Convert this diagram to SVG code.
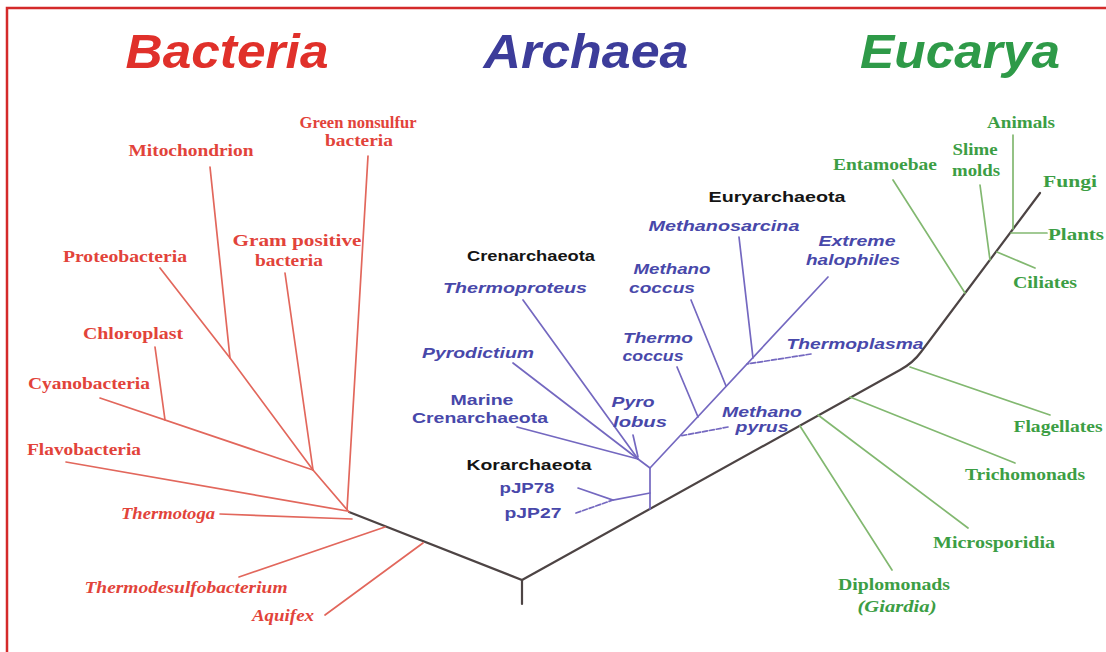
<svg xmlns="http://www.w3.org/2000/svg" width="1106" height="652" viewBox="0 0 1106 652">
<style>
text{font-weight:bold;text-anchor:middle}
.t{font-family:"Liberation Sans",Arial,sans-serif;font-style:italic;font-size:48px}
.bl{font-family:"Liberation Serif","Times New Roman",serif;font-size:16px;fill:#e2433a}
.el{font-family:"Liberation Serif","Times New Roman",serif;font-size:16px;fill:#3c9e44}
.al{font-family:"Liberation Sans",Arial,sans-serif;font-size:15px;fill:#4848aa}
.ak{font-family:"Liberation Sans",Arial,sans-serif;font-size:15px;fill:#141414}
.i{font-style:italic}
.c path{fill:none;stroke-linecap:round}
.rb{stroke:#e2675c;stroke-width:1.7}
.ab{stroke:#7468c0;stroke-width:1.7}
.eb{stroke:#82b870;stroke-width:1.7}
.tr{stroke:#4d4444;stroke-width:2.2}
.d{stroke-dasharray:5 2}
</style>
<rect width="1106" height="652" fill="#ffffff"/>
<path d="M7,652 L7,8 L1106,8" fill="none" stroke="#d42a2a" stroke-width="2.5"/>
<g id="titles">
<text class="t" x="227" y="68" fill="#e0302a" textLength="203" lengthAdjust="spacingAndGlyphs">Bacteria</text>
<text class="t" x="586" y="68" fill="#3c3c9a" textLength="205" lengthAdjust="spacingAndGlyphs">Archaea</text>
<text class="t" x="960" y="68" fill="#2e9a48" textLength="200" lengthAdjust="spacingAndGlyphs">Eucarya</text>
</g>
<g id="connectors" class="c">
<path class="tr" d="M349,512 L522,580 L900,370 Q913,363 921,352 L1040,193"/>
<path class="tr" d="M522,580 L522,604"/>
<path class="rb" d="M368,156 L347,510"/>
<path class="rb" d="M285,273 L313,470"/>
<path class="rb" d="M210,167 L230,358"/>
<path class="rb" d="M160,268 L230,358 L313,470 L349,512"/>
<path class="rb" d="M155,347 L165,420"/>
<path class="rb" d="M100,398 L313,470"/>
<path class="rb" d="M66,462 L347,511"/>
<path class="rb" d="M220,514 L352,519"/>
<path class="rb" d="M239,577 L385,527"/>
<path class="rb" d="M325,615 L423,543"/>
<path class="ab" d="M650,509 L650,468 L828,277"/>
<path class="ab" d="M650,468 L638,459"/>
<path class="ab" d="M523,300 L638,459"/>
<path class="ab" d="M513,363 L638,459"/>
<path class="ab" d="M517,427 L638,459"/>
<path class="ab" d="M633,435 L638,457"/>
<path class="ab d" d="M728,427 L680,436"/>
<path class="ab" d="M677,367 L698,417"/>
<path class="ab" d="M691,300 L726,386"/>
<path class="ab" d="M739,237 L753,358"/>
<path class="ab d" d="M811,354 L747,364"/>
<path class="ab" d="M578,488 L613,500 L650,493"/>
<path class="ab d" d="M576,513 L613,500"/>
<path class="eb" d="M893,180 L965,293"/>
<path class="eb" d="M980,185 L990,260"/>
<path class="eb" d="M997,252 L1035,268"/>
<path class="eb" d="M1013,135 L1013,229"/>
<path class="eb" d="M1011,233 L1047,233"/>
<path class="eb" d="M910,367 L1050,415"/>
<path class="eb" d="M850,397 L1015,463"/>
<path class="eb" d="M818,415 L968,528"/>
<path class="eb" d="M800,426 L892,570"/>
</g>
<g id="green-nonsulfur"><text class="bl" x="358" y="128" textLength="117" lengthAdjust="spacingAndGlyphs">Green nonsulfur</text><text class="bl" x="359" y="146" textLength="68" lengthAdjust="spacingAndGlyphs">bacteria</text></g>
<g id="mitochondrion"><text class="bl" x="191" y="156" textLength="125" lengthAdjust="spacingAndGlyphs">Mitochondrion</text></g>
<g id="proteobacteria"><text class="bl" x="125" y="262" textLength="124" lengthAdjust="spacingAndGlyphs">Proteobacteria</text></g>
<g id="gram-positive"><text class="bl" x="297" y="246" textLength="129" lengthAdjust="spacingAndGlyphs">Gram positive</text><text class="bl" x="289" y="266" textLength="68" lengthAdjust="spacingAndGlyphs">bacteria</text></g>
<g id="chloroplast"><text class="bl" x="133" y="339" textLength="100" lengthAdjust="spacingAndGlyphs">Chloroplast</text></g>
<g id="cyanobacteria"><text class="bl" x="89" y="389" textLength="122" lengthAdjust="spacingAndGlyphs">Cyanobacteria</text></g>
<g id="flavobacteria"><text class="bl" x="84" y="455" textLength="114" lengthAdjust="spacingAndGlyphs">Flavobacteria</text></g>
<g id="thermotoga"><text class="bl i" x="168" y="519" textLength="94" lengthAdjust="spacingAndGlyphs">Thermotoga</text></g>
<g id="thermodesulfobacterium"><text class="bl i" x="186" y="593" textLength="203" lengthAdjust="spacingAndGlyphs">Thermodesulfobacterium</text></g>
<g id="aquifex"><text class="bl i" x="283" y="621" textLength="62" lengthAdjust="spacingAndGlyphs">Aquifex</text></g>
<g id="euryarchaeota"><text class="ak" x="777" y="202" textLength="137" lengthAdjust="spacingAndGlyphs">Euryarchaeota</text></g>
<g id="methanosarcina"><text class="al i" x="724" y="231" textLength="151" lengthAdjust="spacingAndGlyphs">Methanosarcina</text></g>
<g id="extreme-halophiles"><text class="al i" x="857" y="246" textLength="77" lengthAdjust="spacingAndGlyphs">Extreme</text><text class="al i" x="853" y="265" textLength="94" lengthAdjust="spacingAndGlyphs">halophiles</text></g>
<g id="crenarchaeota"><text class="ak" x="531" y="261" textLength="128" lengthAdjust="spacingAndGlyphs">Crenarchaeota</text></g>
<g id="thermoproteus"><text class="al i" x="515" y="293" textLength="144" lengthAdjust="spacingAndGlyphs">Thermoproteus</text></g>
<g id="methanococcus"><text class="al i" x="672" y="274" textLength="77" lengthAdjust="spacingAndGlyphs">Methano</text><text class="al i" x="662" y="293" textLength="66" lengthAdjust="spacingAndGlyphs">coccus</text></g>
<g id="pyrodictium"><text class="al i" x="478" y="358" textLength="112" lengthAdjust="spacingAndGlyphs">Pyrodictium</text></g>
<g id="thermococcus"><text class="al i" x="658" y="343" textLength="70" lengthAdjust="spacingAndGlyphs">Thermo</text><text class="al i" x="653" y="361" textLength="61" lengthAdjust="spacingAndGlyphs">coccus</text></g>
<g id="thermoplasma"><text class="al i" x="855" y="349" textLength="137" lengthAdjust="spacingAndGlyphs">Thermoplasma</text></g>
<g id="marine-crenarchaeota"><text class="al" x="482" y="405" textLength="63" lengthAdjust="spacingAndGlyphs">Marine</text><text class="al" x="480" y="423" textLength="136" lengthAdjust="spacingAndGlyphs">Crenarchaeota</text></g>
<g id="pyrolobus"><text class="al i" x="633" y="407" textLength="43" lengthAdjust="spacingAndGlyphs">Pyro</text><text class="al i" x="640" y="427" textLength="54" lengthAdjust="spacingAndGlyphs">lobus</text></g>
<g id="methanopyrus"><text class="al i" x="762" y="417" textLength="80" lengthAdjust="spacingAndGlyphs">Methano</text><text class="al i" x="762" y="432" textLength="53" lengthAdjust="spacingAndGlyphs">pyrus</text></g>
<g id="korarchaeota"><text class="ak" x="529" y="470" textLength="125" lengthAdjust="spacingAndGlyphs">Korarchaeota</text></g>
<g id="pjp78"><text class="al" x="527" y="493" textLength="55" lengthAdjust="spacingAndGlyphs">pJP78</text></g>
<g id="pjp27"><text class="al" x="533" y="518" textLength="57" lengthAdjust="spacingAndGlyphs">pJP27</text></g>
<g id="animals"><text class="el" x="1021" y="128" textLength="68" lengthAdjust="spacingAndGlyphs">Animals</text></g>
<g id="slime-molds"><text class="el" x="975" y="155" textLength="45" lengthAdjust="spacingAndGlyphs">Slime</text><text class="el" x="976" y="176" textLength="48" lengthAdjust="spacingAndGlyphs">molds</text></g>
<g id="entamoebae"><text class="el" x="885" y="170" textLength="104" lengthAdjust="spacingAndGlyphs">Entamoebae</text></g>
<g id="fungi"><text class="el" x="1070" y="187" textLength="54" lengthAdjust="spacingAndGlyphs">Fungi</text></g>
<g id="plants"><text class="el" x="1076" y="240" textLength="56" lengthAdjust="spacingAndGlyphs">Plants</text></g>
<g id="ciliates"><text class="el" x="1045" y="288" textLength="64" lengthAdjust="spacingAndGlyphs">Ciliates</text></g>
<g id="flagellates"><text class="el" x="1058" y="432" textLength="89" lengthAdjust="spacingAndGlyphs">Flagellates</text></g>
<g id="trichomonads"><text class="el" x="1025" y="480" textLength="120" lengthAdjust="spacingAndGlyphs">Trichomonads</text></g>
<g id="microsporidia"><text class="el" x="994" y="548" textLength="122" lengthAdjust="spacingAndGlyphs">Microsporidia</text></g>
<g id="diplomonads"><text class="el" x="894" y="590" textLength="112" lengthAdjust="spacingAndGlyphs">Diplomonads</text><text class="el i" x="897" y="612" textLength="79" lengthAdjust="spacingAndGlyphs">(Giardia)</text></g>
</svg>
